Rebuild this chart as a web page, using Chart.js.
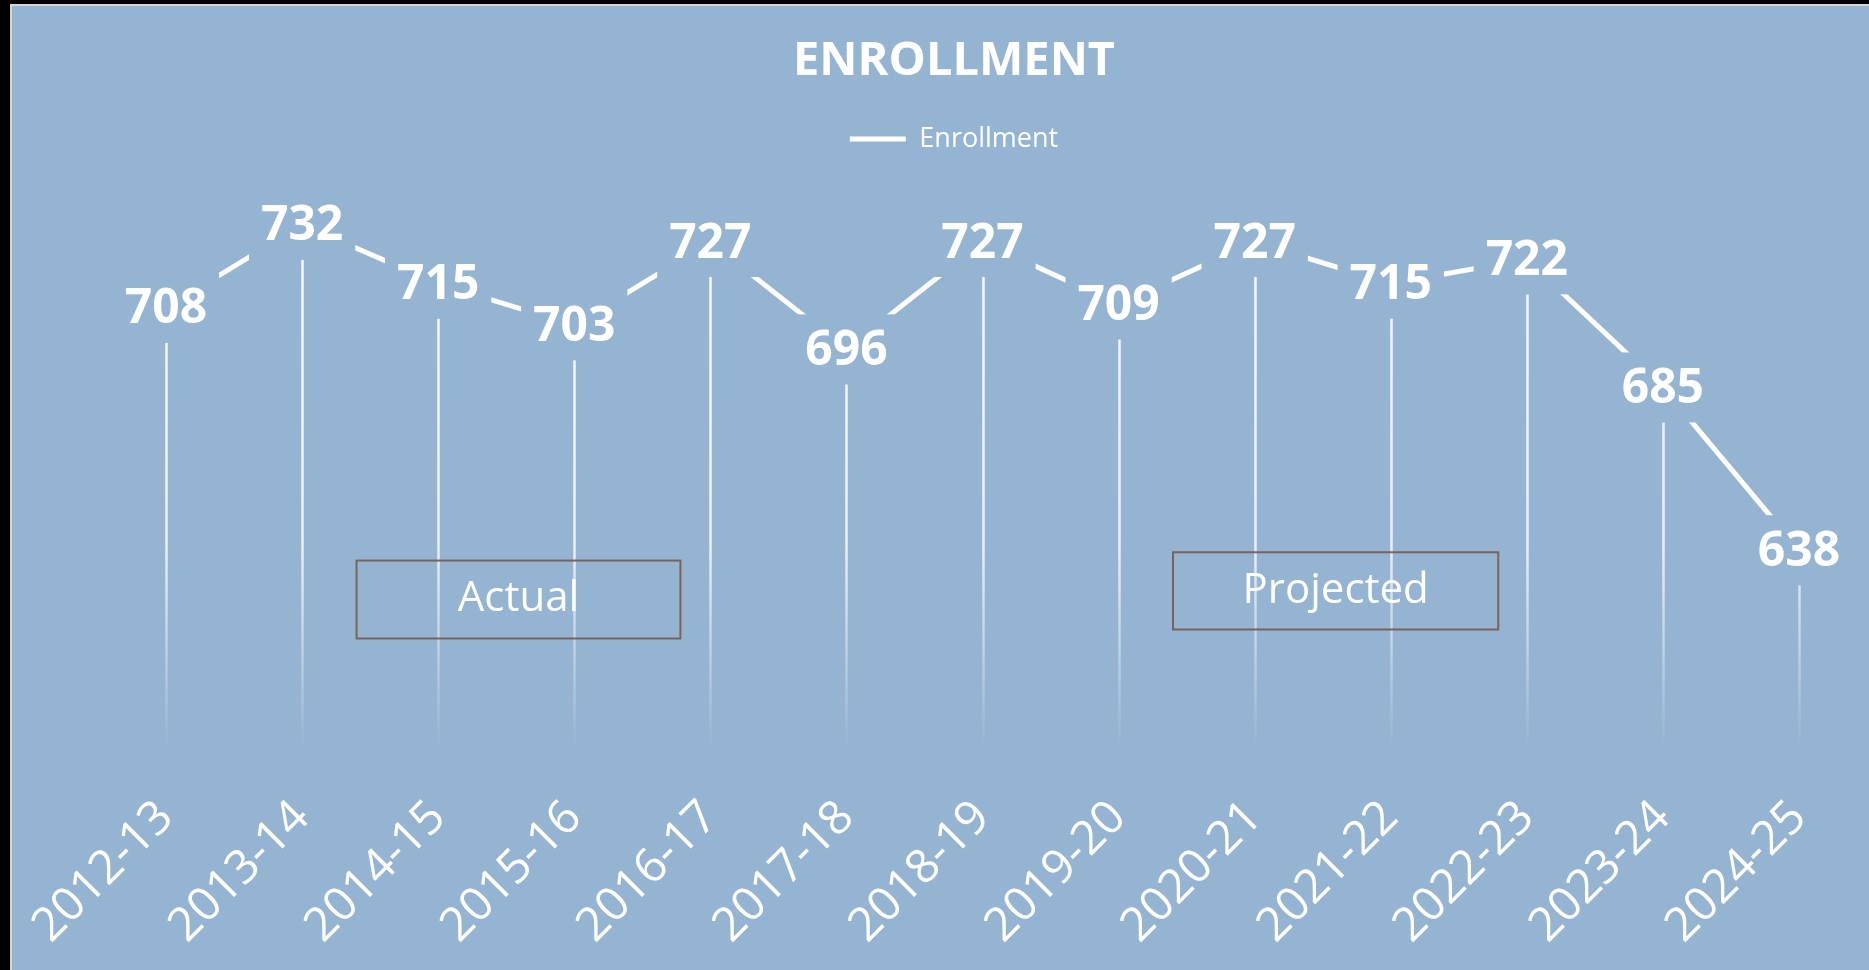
<!DOCTYPE html>
<html lang="en">
  <head>
    <meta charset="UTF-8" />
    <title>Enrollment</title>
    <style>
      body {
        margin: 0;
        background-color: #000;
        overflow: hidden;
      }
      .chart-frame {
        position: absolute;
        left: 10px;
        top: 4px;
        border-left: 2px solid #d6d6d6;
        border-top: 2px solid #d6d6d6;
        background-color: #95b4d2;
      }
      canvas {
        display: block;
      }
    </style>
  </head>
  <body>
    <div class="chart-frame">
      <canvas id="enrollmentChart" width="1884" height="964"></canvas>
    </div>

    <script src="https://cdn.jsdelivr.net/npm/chart.js"></script>
    <script>
      const years = [
        "2012-13", "2013-14", "2014-15", "2015-16", "2016-17", "2017-18", "2018-19",
        "2019-20", "2020-21", "2021-22", "2022-23", "2023-24", "2024-25",
      ];
      const enrollment = [708, 732, 715, 703, 727, 696, 727, 709, 727, 715, 722, 685, 638];

      // text boxes, placed in axis units (category index / enrollment value)
      const noteText = ["Actual", "Projected"];
      const noteFrom = [1.4, 7.4];
      const noteTo = [3.78, 9.79];
      const noteTop = [635, 637.4];
      const noteBottom = [612.5, 615.1];

      const bg = "#95b4d2";
      const font = "'Open Sans', sans-serif";

      const enrollmentMarks = {
        id: "enrollmentMarks",
        beforeDatasetsDraw(chart) {
          const { ctx, chartArea, scales } = chart;
          const x = scales.x, y = scales.y;
          const grad = ctx.createLinearGradient(0, chartArea.top, 0, chartArea.bottom);
          grad.addColorStop(0, "rgba(255,255,255,0.95)");
          grad.addColorStop(0.65, "rgba(255,255,255,0.8)");
          grad.addColorStop(1, "rgba(255,255,255,0)");
          ctx.save();
          ctx.strokeStyle = grad;
          ctx.lineWidth = 2.5;
          enrollment.forEach((v, i) => {
            const px = Math.round(x.getPixelForValue(i)) + 0.5;
            const py = y.getPixelForValue(v);
            ctx.beginPath();
            ctx.moveTo(px, py + 35);
            ctx.lineTo(px, chartArea.bottom);
            ctx.stroke();
          });

          // Actual / Projected boxes
          ctx.strokeStyle = "#7b625b";
          ctx.lineWidth = 2;
          ctx.fillStyle = "#fff";
          ctx.font = "42px " + font;
          ctx.textAlign = "center";
          ctx.textBaseline = "middle";
          noteText.forEach((t, i) => {
            const l = x.getPixelForValue(noteFrom[i]);
            const r = x.getPixelForValue(noteTo[i]);
            const top = y.getPixelForValue(noteTop[i]);
            const bot = y.getPixelForValue(noteBottom[i]);
            ctx.strokeRect(l, top, r - l, bot - top);
            ctx.fillText(t, (l + r) / 2, (top + bot) / 2);
          });
          ctx.restore();
        },
        afterDatasetsDraw(chart) {
          const { ctx, scales } = chart;
          const x = scales.x, y = scales.y;
          ctx.save();
          ctx.font = "bold 48px " + font;
          ctx.textAlign = "center";
          ctx.textBaseline = "middle";
          enrollment.forEach((v, i) => {
            const px = x.getPixelForValue(i);
            const py = y.getPixelForValue(v);
            const w = ctx.measureText(String(v)).width + 24;
            ctx.fillStyle = bg;
            ctx.fillRect(px - w / 2, py - 35, w, 70);
            ctx.fillStyle = "#fff";
            ctx.fillText(String(v), px, py + 2);
          });
          ctx.restore();
        },
      };

      const config = {
        type: "line",
        data: {
          labels: years,
          datasets: [
            {
              label: "Enrollment",
              data: enrollment,
              borderColor: "#fff",
              backgroundColor: "#fff",
              borderWidth: 5,
              borderCapStyle: "round",
              pointRadius: 0,
              tension: 0,
            },
          ],
        },
        options: {
          responsive: false,
          animation: false,
          layout: {
            padding: { left: 29, right: 29, top: 0, bottom: 0 },
          },
          plugins: {
            title: {
              display: true,
              text: "ENROLLMENT",
              color: "#fff",
              font: { family: font, size: 47, weight: "bold" },
              padding: { top: 27, bottom: 26 },
            },
            legend: {
              labels: {
                color: "#fff",
                font: { family: font, size: 27 },
                usePointStyle: true,
                pointStyle: "line",
                pointStyleWidth: 56,
                padding: 10,
              },
            },
            tooltip: { enabled: false },
          },
          scales: {
            x: {
              offset: true,
              grid: { display: false, drawTicks: false },
              border: { display: false },
              ticks: {
                color: "#fff",
                font: { family: font, size: 47 },
                minRotation: 45,
                maxRotation: 45,
                padding: 39,
              },
              afterFit(scale) {
                scale.height = 219;
                scale.paddingLeft = 0;
                scale.paddingRight = 0;
              },
            },
            y: {
              display: true,
              min: 580,
              max: 750,
              grid: { display: false },
              border: { display: false },
              ticks: { display: false },
              afterFit(scale) {
                scale.width = 57;
              },
            },
          },
        },
        plugins: [enrollmentMarks],
      };

      new Chart(document.getElementById("enrollmentChart"), config);
    </script>
  </body>
</html>
